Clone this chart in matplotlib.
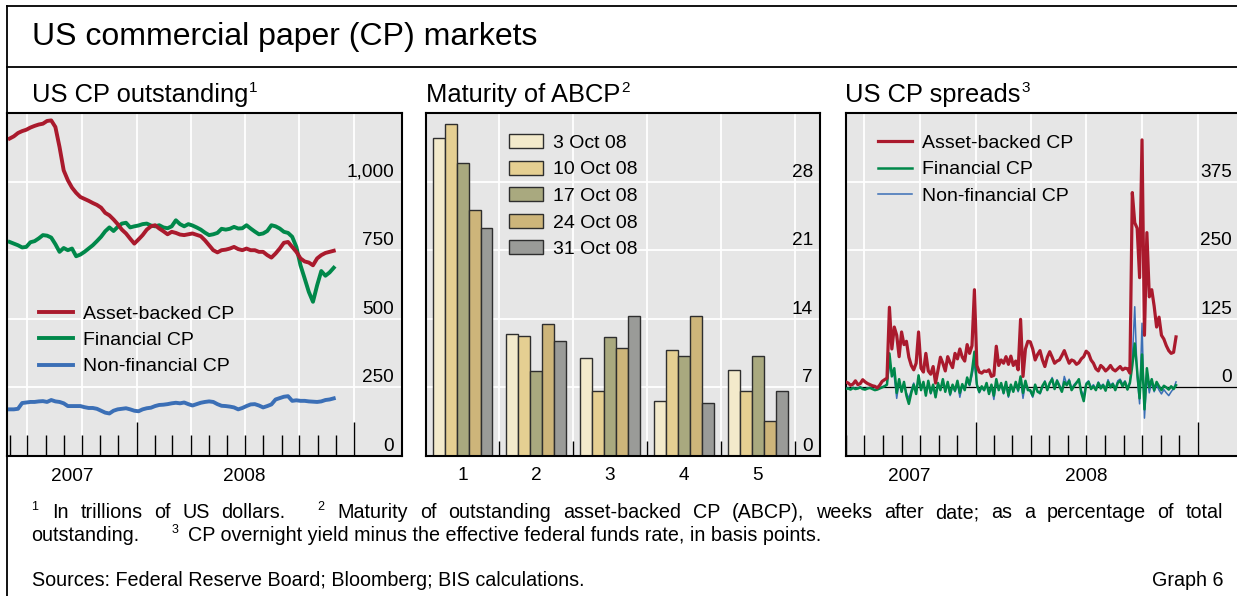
import matplotlib
matplotlib.use("Agg")
import matplotlib.pyplot as plt
import matplotlib.dates as mdates
import matplotlib.transforms as mtransforms
import numpy as np
import pandas as pd

plt.rcParams['font.family'] = ['Liberation Sans', 'DejaVu Sans']

# ---------------- data ----------------
# Panel 1: US CP outstanding (USD bn), weekly from 1 June 2007
out_start = "2007-06-01"
abcp_outstanding = [
    1157, 1165, 1177, 1184, 1189, 1197, 1203, 1208, 1211, 1221,
    1223, 1199, 1126, 1041, 1005, 978, 959, 944, 937, 930,
    922, 915, 905, 886, 877, 862, 845, 825, 811, 792,
    774, 789, 805, 825, 837, 841, 829, 819, 808, 817,
    813, 807, 805, 808, 811, 806, 801, 786, 768, 750,
    742, 750, 752, 756, 762, 754, 750, 756, 750, 750,
    744, 744, 732, 723, 738, 756, 777, 780, 762, 744,
    720, 709, 705, 695, 720, 732, 740, 744, 748]
fin_outstanding = [
    780, 774, 768, 760, 762, 779, 783, 793, 805, 803,
    796, 772, 744, 758, 750, 756, 728, 734, 744, 756,
    768, 783, 799, 819, 833, 820, 835, 847, 850, 833,
    837, 840, 845, 847, 840, 837, 841, 833, 830, 837,
    859, 845, 837, 845, 840, 833, 825, 814, 805, 808,
    813, 828, 825, 828, 835, 829, 830, 841, 829, 818,
    808, 811, 820, 841, 837, 829, 817, 813, 799, 762,
    695, 647, 598, 562, 622, 674, 657, 669, 686]
nonfin_outstanding = [
    170, 170, 172, 193, 195, 197, 197, 199, 200, 197,
    204, 199, 197, 192, 182, 182, 182, 182, 178, 175,
    175, 172, 165, 158, 155, 165, 170, 172, 174, 170,
    165, 163, 170, 174, 176, 182, 186, 187, 189, 192,
    194, 192, 195, 189, 184, 189, 194, 197, 199, 197,
    189, 183, 182, 180, 177, 170, 175, 182, 188, 189,
    184, 177, 182, 188, 206, 211, 216, 218, 201, 203,
    201, 201, 199, 198, 197, 199, 204, 206, 210]
out_labels = ["Asset-backed CP", "Financial CP", "Non-financial CP"]

# Panel 2: maturity of ABCP (% of total outstanding)
maturity_weeks = [1, 2, 3, 4, 5]
maturity_dates = ["3 Oct 08", "10 Oct 08", "17 Oct 08", "24 Oct 08", "31 Oct 08"]
maturity_3oct = [32.5, 12.5, 10.0, 5.6, 8.8]
maturity_10oct = [33.9, 12.2, 6.6, 10.8, 6.6]
maturity_17oct = [29.9, 8.7, 12.1, 10.2, 10.2]
maturity_24oct = [25.1, 13.5, 11.0, 14.3, 3.6]
maturity_31oct = [23.3, 11.7, 14.3, 5.4, 6.6]

# Panel 3: CP spreads (bp), every 4 days from 1 June 2007
spread_start = "2007-06-01"
abcp_spread = [
    10, 8, 4, 6, 12, 5, 7, 14, 10, 7,
    5, 3, 2, -1, 4, 11, 14, 17, 146, 70,
    110, 95, 56, 101, 78, 84, 55, 40, 32, 44,
    101, 35, 28, 62, 30, 24, 38, 8, 32, 55,
    44, 30, 56, 45, 36, 62, 52, 70, 55, 48,
    78, 62, 76, 178, 40, 28, 26, 30, 29, 32,
    20, 22, 75, 40, 50, 44, 56, 42, 57, 40,
    48, 32, 124, 20, 70, 84, 83, 70, 50, 60,
    67, 50, 38, 55, 65, 55, 44, 48, 50, 58,
    67, 55, 44, 50, 48, 42, 45, 52, 56, 66,
    62, 50, 44, 34, 30, 40, 36, 30, 34, 40,
    33, 30, 34, 38, 32, 35, 34, 26, 355, 300,
    290, 200, 451, 95, 282, 165, 178, 148, 110, 128,
    95, 88, 76, 67, 62, 64, 92]
fin_spread = [
    -3, -2, -4, -1, -3, -2, 0, -3, -4, -2,
    -1, -3, -5, -4, -2, 0, 2, 5, 62, 20,
    35, -10, 15, -8, 10, -15, -30, -10, 5, -12,
    22, -5, 10, -15, 12, -10, 5, -18, 8, -5,
    15, -8, 10, -12, 5, -6, 12, -10, 6, -5,
    18, 5, 30, 65, 5, -8, 2, -5, 8, -12,
    5, -15, 15, -5, 8, -10, 10, -15, 5, -8,
    10, -5, 20, -10, 12, -5, -5, -15, 5, -8,
    -10, 3, 10, -5, 8, 15, -3, 12, 2, -8,
    10, 4, 12, -5, 2, 8, 15, -10, -25, 5,
    10, -3, 2, -5, 8, -2, 4, -6, 10, 0,
    6, -5, 8, 12, 2, 10, -4, 8, 40, 80,
    30, -20, 60, -40, 35, 0, 15, -5, 10, 2,
    -5, 3, 0, -4, 2, -3, 4]
nonfin_spread = [
    -2, -1, -3, 0, -2, -1, 1, -2, -3, -1,
    0, -2, -4, -3, -1, 1, 3, 6, 40, 30,
    20, -20, 10, -5, 5, -10, -20, -5, 8, -8,
    15, -2, 6, -10, 8, -12, 4, -14, 5, -2,
    10, -5, 6, -15, 3, -8, 8, -18, 4, -3,
    12, 3, 22, 45, 2, -10, 0, -6, 5, -10,
    3, -22, 10, -3, 5, -12, 6, -18, 2, -6,
    6, -8, 15, -20, 8, -2, -8, -18, 3, -6,
    -12, 0, 12, -3, 6, 18, 0, 14, 5, -6,
    20, 6, 15, -2, 5, 10, 12, -6, -15, 8,
    12, 0, 5, -3, 10, 2, 6, -3, 14, 4,
    8, -2, 12, 15, 6, 12, 0, 10, 50, 147,
    20, -30, 117, -56, 20, -10, 10, -8, 5, -5,
    -12, -4, -10, -15, -8, -2, 10]

out_yticks = [0, 250, 500, 750, 1000]
out_yticklabels = ["0", "250", "500", "750", "1,000"]
mat_yticks = [0, 7, 14, 21, 28]
mat_yticklabels = ["0", "7", "14", "21", "28"]
spr_yticks = [0, 125, 250, 375]
spr_yticklabels = ["0", "125", "250", "375"]

# ---------------- style ----------------
BG = "#E6E6E6"
RED = "#AA1A2D"
GREEN = "#00884A"
BLUE = "#3B6FB6"
BAR_COLORS = ["#F3EACB", "#E5CF92", "#A9A97F", "#CDB57A", "#9A9B98"]
TICK_FS = 13.7
LEG_FS = 14

W, H = 1237, 596
fig = plt.figure(figsize=(W / 100, H / 100), dpi=100)
renderer = fig.canvas.get_renderer()


def ax_px(x0, y0, x1, y1):
    return fig.add_axes([x0 / W, 1 - y1 / H, (x1 - x0) / W, (y1 - y0) / H])


def style_axes(ax):
    ax.set_facecolor(BG)
    for s in ax.spines.values():
        s.set_color("black")
        s.set_linewidth(1.5)
    ax.tick_params(axis="y", left=False, right=False, labelleft=False, labelright=False)


def ylabels(ax, vals, labels, dx=-8):
    for v, l in zip(vals, labels):
        ax.annotate(l, xy=(1, v), xycoords=("axes fraction", "data"),
                    xytext=(dx, 5), textcoords="offset pixels",
                    ha="right", va="baseline", fontsize=TICK_FS, zorder=5)


def hgrid(ax, vals, color="white", lw=1.3):
    for v in vals:
        ax.axhline(v, color=color, lw=lw, zorder=0.6)


def time_axis(ax, left, right):
    ax.set_xlim(mdates.date2num(pd.Timestamp(left)), mdates.date2num(pd.Timestamp(right)))
    majors = [pd.Timestamp("2008-01-01"), pd.Timestamp("2009-01-01")]
    minors = [d for d in pd.date_range("2007-06-01", "2008-12-01", freq="MS") if d not in majors]
    ax.set_xticks(mdates.date2num(majors))
    ax.set_xticks(mdates.date2num(minors), minor=True)
    ax.tick_params(axis="x", which="major", direction="in", length=24.5, width=1.0,
                   labelbottom=False, color="black")
    ax.tick_params(axis="x", which="minor", direction="in", length=15, width=1.0,
                   labelbottom=False, color="black")
    for q in pd.date_range("2007-07-01", "2009-01-01", freq="QS"):
        ax.axvline(mdates.date2num(q), color="white", lw=1.3, zorder=0.6)
    trans = mtransforms.blended_transform_factory(ax.transData, ax.transAxes)
    for d, lab in [("2007-09-14", "2007"), ("2008-07-01", "2008")]:
        ax.annotate(lab, xy=(mdates.date2num(pd.Timestamp(d)), 0), xycoords=trans,
                    xytext=(0, -25), textcoords="offset pixels",
                    ha="center", va="baseline", fontsize=TICK_FS, annotation_clip=False)


def legend_px(ax, handles, labels, x, ytop, **kw):
    leg = ax.legend(handles, labels, loc="upper left",
                    bbox_to_anchor=(x / W, 1 - ytop / H), bbox_transform=fig.transFigure,
                    frameon=False, fontsize=LEG_FS, borderpad=0, borderaxespad=0,
                    handletextpad=0.51, labelspacing=0.45, **kw)
    leg.set_zorder(10)
    return leg


# ---------------- panel 1 ----------------
out_dates = pd.date_range(out_start, periods=len(abcp_outstanding), freq="7D")
ax1 = ax_px(7.3, 113, 402, 456)
style_axes(ax1)
ax1.set_ylim(0, 1250)
hgrid(ax1, [250, 500, 750, 1000])
time_axis(ax1, "2007-05-28", "2009-03-23")
l1c, = ax1.plot(out_dates, nonfin_outstanding, color=BLUE, lw=2.8, zorder=3)
l1b, = ax1.plot(out_dates, fin_outstanding, color=GREEN, lw=2.8, zorder=3)
l1a, = ax1.plot(out_dates, abcp_outstanding, color=RED, lw=2.8, zorder=3)
ylabels(ax1, out_yticks, out_yticklabels)
legend_px(ax1, [l1a, l1b, l1c], out_labels, 39, 305, handlelength=1.75)

# ---------------- panel 2 ----------------
ax2 = ax_px(425.7, 113, 820, 456)
style_axes(ax2)
ax2.set_xlim(0.5, 5.845)
ax2.set_ylim(0, 35)
hgrid(ax2, [7, 14, 21, 28])
for v in [1.5, 2.5, 3.5, 4.5, 5.5]:
    ax2.axvline(v, color="white", lw=1.3, zorder=0.6)
xw = np.array(maturity_weeks, dtype=float)
bw = 0.162
series = [maturity_3oct, maturity_10oct, maturity_17oct, maturity_24oct, maturity_31oct]
bars = []
for i, (vals, c) in enumerate(zip(series, BAR_COLORS)):
    b = ax2.bar(xw + (i - 2) * bw, vals, width=bw, color=c, edgecolor="#2E2E2E",
                linewidth=1.0, zorder=2)
    bars.append(b)
ax2.set_xticks(xw)
ax2.set_xticklabels([str(w) for w in maturity_weeks])
ax2.tick_params(axis="x", which="major", length=0, pad=8, labelsize=TICK_FS)
ax2.set_xticks([1.5, 2.5, 3.5, 4.5, 5.5], minor=True)
ax2.tick_params(axis="x", which="minor", direction="in", length=10.8, width=1.0, color="black")
ylabels(ax2, mat_yticks, mat_yticklabels, dx=-7)
legend_px(ax2, bars, maturity_dates, 509, 134, handlelength=1.75, handleheight=0.74)

# ---------------- panel 3 ----------------
spr_dates = pd.date_range(spread_start, periods=len(abcp_spread), freq="4D")
ax3 = ax_px(845.7, 113, 1241, 456)
style_axes(ax3)
ax3.set_ylim(-125, 500)
hgrid(ax3, [125, 250, 375])
ax3.axhline(0, color="black", lw=0.9, zorder=0.7)
time_axis(ax3, "2007-06-01", "2009-03-13")
l3c, = ax3.plot(spr_dates, nonfin_spread, color=BLUE, lw=1.1, zorder=3)
l3b, = ax3.plot(spr_dates, fin_spread, color=GREEN, lw=1.8, zorder=3)
l3a, = ax3.plot(spr_dates, abcp_spread, color=RED, lw=2.3, zorder=3)
ylabels(ax3, spr_yticks, spr_yticklabels, dx=-9)
legend_px(ax3, [l3a, l3b, l3c], out_labels, 878, 134.5, handlelength=1.75)

# ---------------- frame ----------------
frame_kw = dict(color="black", lw=1.3, transform=fig.transFigure, clip_on=False)
fig.add_artist(plt.Line2D([6.5 / W, 1], [1 - 5.5 / H, 1 - 5.5 / H], **frame_kw))
fig.add_artist(plt.Line2D([6.5 / W, 1], [1 - 66.5 / H, 1 - 66.5 / H], **frame_kw))
fig.add_artist(plt.Line2D([6.5 / W, 6.5 / W], [0, 1 - 5.5 / H], **frame_kw))

# ---------------- titles ----------------
fig.text(31.5 / W, 1 - 45 / H, "US commercial paper (CP) markets", fontsize=23, va="baseline")


def title_sup(x, y, text, sup, fs=18.4, sfs=11, rise=9.5):
    t = fig.text(x / W, 1 - y / H, text, fontsize=fs, va="baseline")
    bb = t.get_window_extent(renderer)
    fig.text((bb.x1 + 1) / W, 1 - (y - rise) / H, sup, fontsize=sfs, va="baseline")


title_sup(31.5, 102, "US CP outstanding", "1")
title_sup(426, 102, "Maturity of ABCP", "2")
title_sup(845, 102, "US CP spreads", "3")

# ---------------- footnotes ----------------
FN_FS = 14.2
SUP_FS = 9
SUP_RISE = 8

line1 = [("1", True), ("In", False), ("trillions", False), ("of", False), ("US", False),
         ("dollars.", False), ("2", True), ("Maturity", False), ("of", False),
         ("outstanding", False), ("asset-backed", False), ("CP", False), ("(ABCP),", False),
         ("weeks", False), ("after", False), ("date;", False), ("as", False), ("a", False),
         ("percentage", False), ("of", False), ("total", False)]


def measure(txt, fs):
    t = fig.text(0, 0, txt, fontsize=fs)
    w = t.get_window_extent(renderer).width
    t.remove()
    return w


x_left, x_right = 31.5, 1223
widths = [measure(t, SUP_FS if s else FN_FS) for t, s in line1]
weights = []
for i in range(len(line1) - 1):
    if line1[i][0] == "dollars.":
        weights.append(2.7)
    elif line1[i][1]:
        weights.append(1.15)
    else:
        weights.append(1.0)
unit = (x_right - x_left - sum(widths)) / sum(weights)
xc = x_left
for i, ((t, s), w) in enumerate(zip(line1, widths)):
    yb = 518.5 - (SUP_RISE if s else 0)
    fig.text(xc / W, 1 - yb / H, t, fontsize=SUP_FS if s else FN_FS, va="baseline")
    xc += w
    if i < len(weights):
        xc += unit * weights[i]

t = fig.text(x_left / W, 1 - 541 / H, "outstanding.", fontsize=FN_FS, va="baseline")
xc = t.get_window_extent(renderer).x1 + 32
t = fig.text(xc / W, 1 - (541 - SUP_RISE) / H, "3", fontsize=SUP_FS, va="baseline")
xc = t.get_window_extent(renderer).x1 + 10
fig.text(xc / W, 1 - 541 / H,
         "CP overnight yield minus the effective federal funds rate, in basis points.",
         fontsize=FN_FS, va="baseline")

fig.text(x_left / W, 1 - 586 / H, "Sources: Federal Reserve Board; Bloomberg; BIS calculations.",
         fontsize=FN_FS, va="baseline")
fig.text(x_right / W, 1 - 586 / H, "Graph 6", fontsize=FN_FS, va="baseline", ha="right")

fig.savefig("out.png", dpi=100)
